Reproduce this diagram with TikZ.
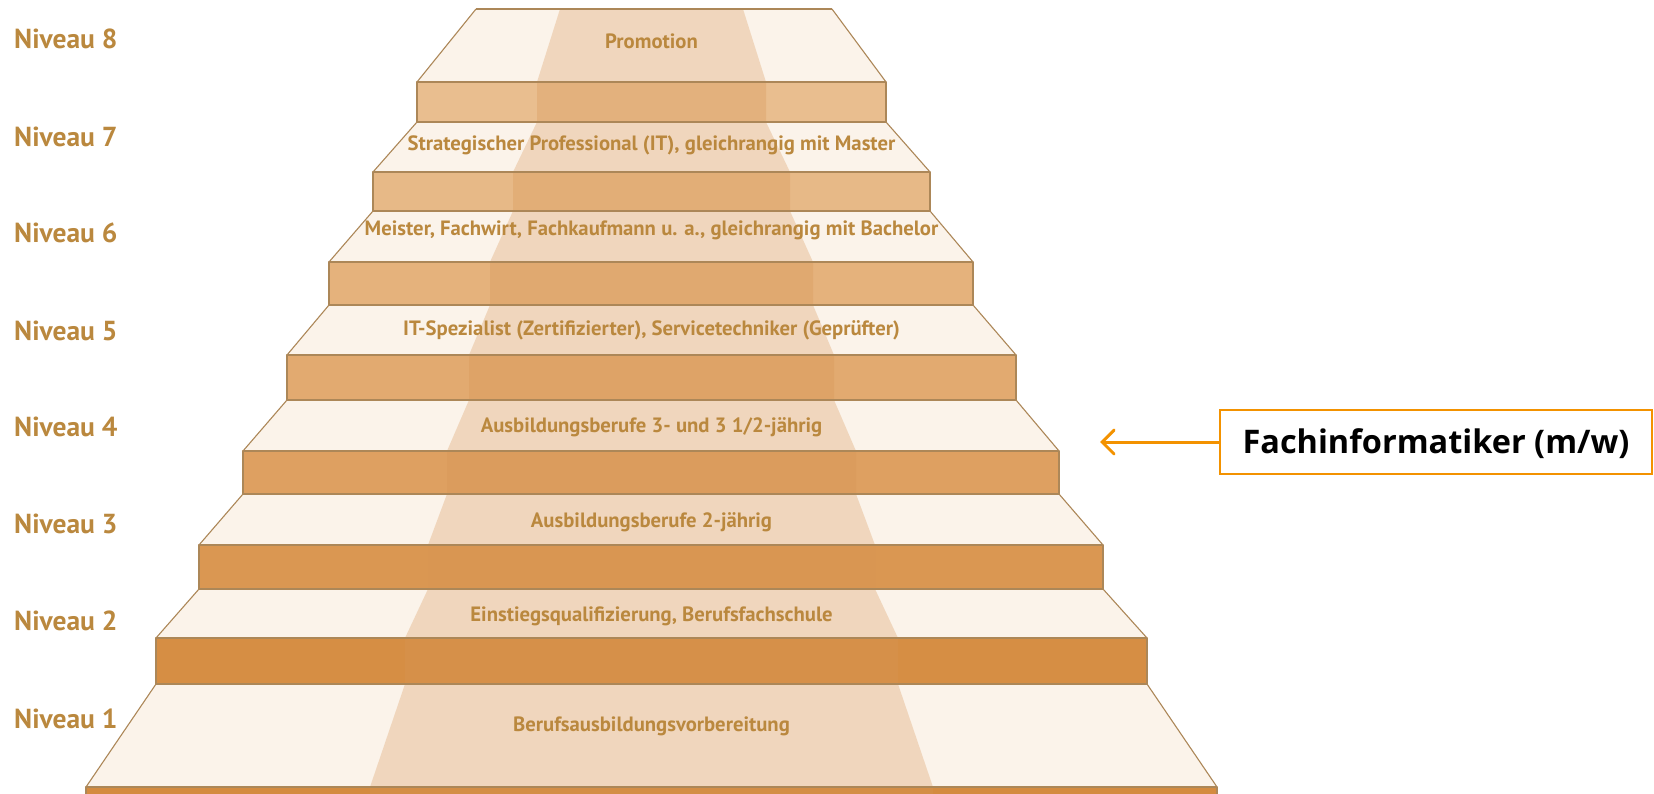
\documentclass[tikz,border=0pt]{standalone}
\usepackage{fontspec}
\setmainfont{PT Sans}
\newfontfamily\boxfont{Open Sans}
\usetikzlibrary{arrows.meta}
\definecolor{cream}{RGB}{251,243,234}
\definecolor{edgec}{RGB}{172,135,88}
\definecolor{txtbrown}{RGB}{186,136,62}
\definecolor{bandc}{RGB}{215,150,85}
\definecolor{orangeA}{RGB}{243,146,0}
\definecolor{r8}{RGB}{233,190,143}
\definecolor{r7}{RGB}{231,185,135}
\definecolor{r6}{RGB}{229,178,124}
\definecolor{r5}{RGB}{226,170,112}
\definecolor{r4}{RGB}{222,160,97}
\definecolor{r3}{RGB}{218,151,82}
\definecolor{r2}{RGB}{214,142,68}
\definecolor{r1}{RGB}{212,139,64}
\tikzset{
  lvl/.style={font=\fontsize{27.5}{31}\selectfont\bfseries, text=txtbrown, anchor=base west, inner sep=0pt},
  steplbl/.style={font=\fontsize{20.7}{24}\selectfont\bfseries, text=txtbrown, anchor=base, inner sep=0pt},
  outline/.style={draw=edgec, line width=1.1pt, line join=round},
  fachbox/.style={draw=orangeA, line width=2pt, fill=white, minimum width=432pt, minimum height=64pt,
    inner sep=0pt, font=\boxfont\fontsize{32.5}{36}\selectfont\bfseries, text=black, text height=23.5pt, text depth=1pt},
  facharrow/.style={draw=orangeA, line width=3pt, line cap=round, -{Straight Barb[length=12pt,width=24pt,line cap=round]}}
}
\begin{document}
\begin{tikzpicture}[x=1pt,y=-1pt]
\useasboundingbox (0,0) rectangle (1654,793);
\clip (0,0) rectangle (1654,793);
% fills
\foreach \lt/\rt/\yt/\lb/\rb/\yb/\yr/\c in {
  476/832/9/417/886/82/122/r8,
  417/886/122/373/930/172/211/r7,
  373/930/211/329/973/262/305/r6,
  329/973/305/287/1016/355/400/r5,
  287/1016/400/243/1059/451/494/r4,
  243/1059/494/199/1103/545/589/r3,
  199/1103/589/156/1147/638/684/r2,
  156/1147/684/86/1217/787/805/r1}{
  \fill[cream] (\lt,\yt) -- (\rt,\yt) -- (\rb,\yb) -- (\lb,\yb) -- cycle;
  \fill[\c] (\lb,\yb) rectangle (\rb,\yr);
}
% central band
\fill[bandc, opacity=0.3]
  (560,9) -- (537,82) -- (537,122) -- (513,172) -- (513,211) -- (490,262) -- (490,305)
  -- (469,355) -- (469,400) -- (447,451) -- (447,494) -- (428,545) -- (428,589)
  -- (405,638) -- (405,684) -- (370,787) -- (370,805)
  -- (933,805) -- (933,787) -- (898,684) -- (898,638) -- (875,589) -- (875,545)
  -- (856,494) -- (856,451) -- (834,400) -- (834,355) -- (813,305) -- (813,262)
  -- (790,211) -- (790,172) -- (766,122) -- (766,82) -- (743,9) -- cycle;
% outlines
\foreach \lt/\rt/\yt/\lb/\rb/\yb/\yr in {
  476/832/9/417/886/82/122,
  417/886/122/373/930/172/211,
  373/930/211/329/973/262/305,
  329/973/305/287/1016/355/400,
  287/1016/400/243/1059/451/494,
  243/1059/494/199/1103/545/589,
  199/1103/589/156/1147/638/684,
  156/1147/684/86/1217/787/805}{
  \draw[outline] (\lt,\yt) -- (\lb,\yb);
  \draw[outline] (\rt,\yt) -- (\rb,\yb);
  \draw[outline] (\lb,\yb) rectangle (\rb,\yr);
}
\draw[outline] (476,9) -- (832,9);
% level labels
\node[lvl] (n8) at (14,48) {Niveau 8};
\node[lvl] (n7) at (14,146) {Niveau 7};
\node[lvl] (n6) at (14,242) {Niveau 6};
\node[lvl] (n5) at (14,340) {Niveau 5};
\node[lvl] (n4) at (14,436) {Niveau 4};
\node[lvl] (n3) at (14,533) {Niveau 3};
\node[lvl] (n2) at (14,630) {Niveau 2};
\node[lvl] (n1) at (14,728) {Niveau 1};
% step labels
\node[steplbl] (s8) at (651.5,48) {Promotion};
\node[steplbl] (s7) at (651.5,150) {Strategischer Professional (IT), gleichrangig mit Master};
\node[steplbl] (s6) at (651.5,235) {Meister, Fachwirt, Fachkaufmann u. a., gleichrangig mit Bachelor};
\node[steplbl] (s5) at (651.5,335) {IT-Spezialist (Zertifizierter), Servicetechniker (Geprüfter)};
\node[steplbl] (s4) at (651.5,432) {Ausbildungsberufe 3- und 3 1/2-jährig};
\node[steplbl] (s3) at (651.5,527) {Ausbildungsberufe 2-jährig};
\node[steplbl] (s2) at (651.5,621) {Einstiegsqualifizierung, Berufsfachschule};
\node[steplbl] (s1) at (651.5,731) {Berufsausbildungsvorbereitung};
% callout
\node[fachbox] (fach) at (1436,442) {Fachinformatiker (m/w)};
\coordinate (tip) at (1100,442);
\draw[facharrow] (fach.west) -- (tip);
\end{tikzpicture}
\end{document}
